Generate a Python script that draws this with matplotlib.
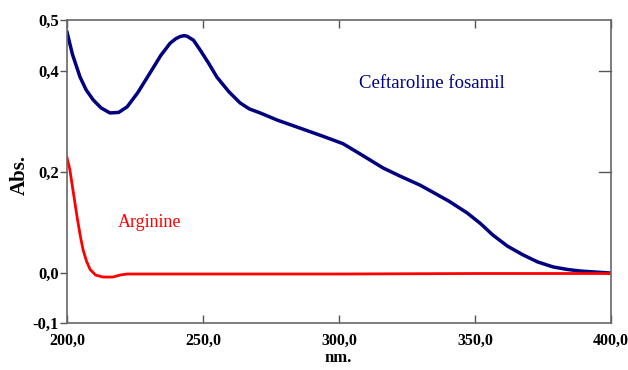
import numpy as np
import matplotlib
matplotlib.use("Agg")
import matplotlib.pyplot as plt

plt.rcParams['font.family'] = ['Liberation Serif', 'DejaVu Serif']

# Ceftaroline fosamil spectrum
ceft_nm = [200.0, 202.0, 204.8, 207.0, 209.6, 212.5, 215.8, 219.0, 222.1, 226.0, 230.5,
           234.5, 237.9, 240.0, 241.5, 243.0, 244.1, 246.5, 248.9, 252.0, 255.1, 259.5,
           263.6, 267.0, 271.0, 277.2, 283.0, 289.3, 295.0, 301.5, 308.0, 316.2, 322.4,
           329.8, 334.5, 340.5, 347.1, 352.0, 356.6, 362.0, 367.6, 373.0, 378.7, 384.0,
           388.6, 394.0, 399.6]
ceft_abs = [0.476, 0.432, 0.387, 0.362, 0.342, 0.326, 0.316, 0.317, 0.328, 0.356, 0.395,
            0.430, 0.454, 0.463, 0.467, 0.469, 0.468, 0.460, 0.441, 0.415, 0.387, 0.358,
            0.336, 0.324, 0.316, 0.302, 0.291, 0.279, 0.268, 0.255, 0.234, 0.207, 0.191,
            0.173, 0.159, 0.141, 0.118, 0.097, 0.074, 0.052, 0.035, 0.021, 0.011, 0.006,
            0.003, 0.001, -0.001]

# Arginine spectrum
arg_nm = [200.0, 201.0, 201.8, 202.8, 203.7, 204.8, 205.9, 207.2, 208.5, 210.5,
          213.2, 216.9, 219.5, 222.1, 260.0, 300.0, 350.0, 400.0]
arg_abs = [0.227, 0.205, 0.177, 0.142, 0.110, 0.075, 0.045, 0.022, 0.006, -0.005,
           -0.009, -0.009, -0.005, -0.003, -0.003, -0.003, -0.002, -0.002]

xticks = [200, 250, 300, 350, 400]
xticklabels = ['200,0', '250,0', '300,0', '350,0', '400,0']
yticks = [-0.1, 0.0, 0.2, 0.4, 0.5]
yticklabels = ['-0,1', '0,0', '0,2', '0,4', '0,5']

fig = plt.figure(figsize=(6.28, 3.70), dpi=100)
ax = fig.add_axes([67/628, 1-323/370, 544/628, 303/370])

ax.plot(ceft_nm, ceft_abs, color='#000080', lw=2.5)
ax.plot(arg_nm, arg_abs, color='#ff0000', lw=2.0)

ax.set_xlim(200, 400)
ax.set_ylim(-0.1, 0.5)

ax.set_xticks(xticks)
ax.set_xticklabels(xticklabels, fontsize=11.5, fontweight='bold')
ax.set_yticks(yticks)
ax.set_yticklabels(yticklabels, fontsize=12, fontweight='bold')

ax.tick_params(axis='x', direction='in', top=True, length=6, width=1, color='#555555', pad=7)
ax.tick_params(axis='y', direction='out', length=5, width=1, color='#555555', pad=1)
# inner ticks on the right side for 0,2 and 0,4
for yv in [0.2, 0.4]:
    ax.plot([395.6, 400], [yv, yv], color='#555555', lw=1, clip_on=False)

for s in ax.spines.values():
    s.set_color('#666666')
    s.set_linewidth(1.2)

ax.set_xlabel('nm.', fontsize=12, fontweight='bold')
ax.xaxis.set_label_coords((338 - 67) / 544, -(350 - 323) / 303)
ax.set_ylabel('Abs.', fontsize=15, fontweight='bold')
ax.yaxis.set_label_coords(-(67 - 30) / 544, (323 - 175) / 303)

ax.text(359/628, 1-83/370, 'Ceftaroline fosamil', transform=fig.transFigure,
        color='#000080', fontsize=13.5, va='center', ha='left')
ax.text(118/628, 1-223/370, 'Arginine', transform=fig.transFigure,
        color='#ff0000', fontsize=13, va='center', ha='left')

fig.savefig('out.png', dpi=100)
